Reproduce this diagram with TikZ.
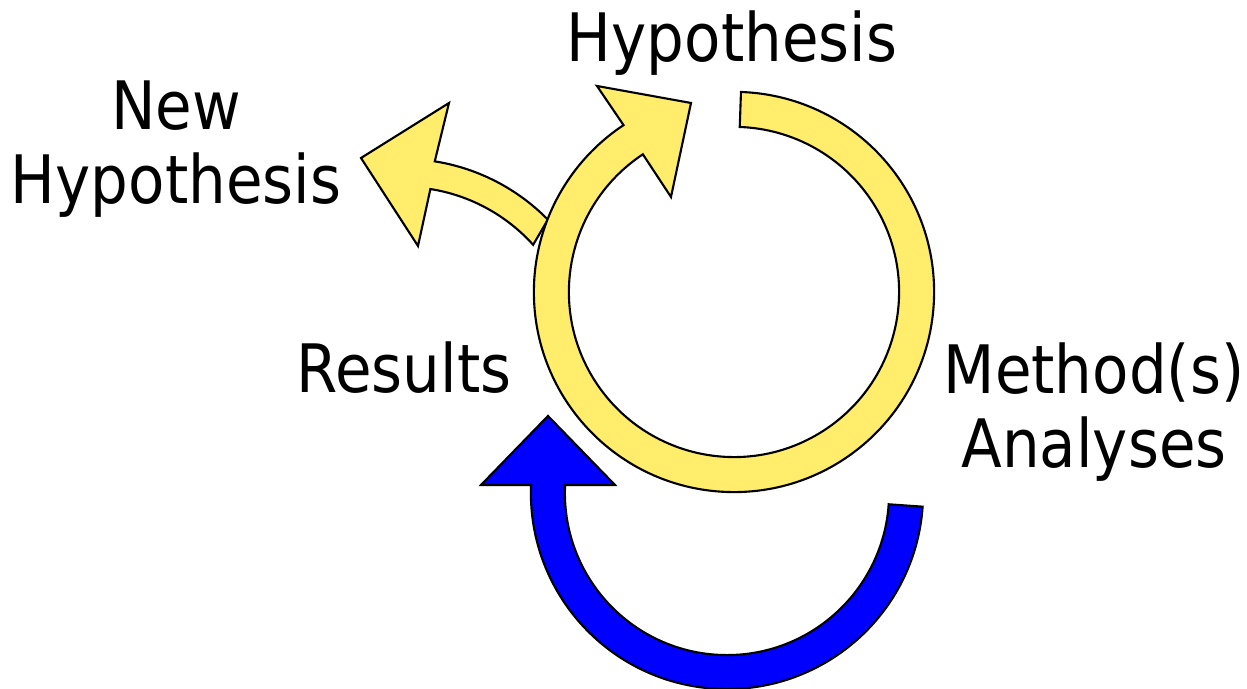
\documentclass[tikz,border=0pt]{standalone}
\usepackage{fontspec}
\newfontfamily\cyclefont{DejaVu Sans}[FakeStretch=0.89]
\usepackage{xcolor}
\definecolor{cycleyellow}{HTML}{FFED6B}
\definecolor{loopblue}{HTML}{0000FF}
\usepackage{tikz}
\usetikzlibrary{calc}
\tikzset{
  every node/.style={font=\cyclefont\fontsize{19pt}{21pt}\selectfont},
  yellowarrow/.style={draw=black, line width=0.6pt, fill=cycleyellow, line join=miter},
  bluearrow/.style={draw=black, line width=0.6pt, fill=loopblue, line join=miter},
  stagelabel/.style={inner sep=0pt, align=center}
}

\begin{document}
\begin{tikzpicture}[x=0.01cm, y=0.01cm]

\useasboundingbox (0,0) rectangle (1247,689);

% Centres and radii of the three bent arrows
\coordinate (ringc)   at (734,397);  % main cycle
\coordinate (branchc) at (403,327);  % new hypothesis branch
\coordinate (loopc)   at (727,196);  % blue loop back
\def\ringout{2cm}
\def\ringin{1.65cm}

% Branch to the new hypothesis (drawn first, the ring covers its end)
\draw[yellowarrow] ([shift={(44.5:2.03cm)}]branchc)
  arc[start angle=44.5, end angle=81, radius=2.03cm]
  -- (449,586) -- (361,531) -- (418,443)
  -- ([shift={(81:1.75cm)}]branchc)
  arc[start angle=81, end angle=42, radius=1.75cm]
  -- cycle;

% Main cycle: from the top, clockwise, round to the arrow head
\draw[yellowarrow] ([shift={(88:\ringout)}]ringc)
  arc[start angle=88, end angle=-236.5, radius=\ringout]
  -- (597,603) -- (691,586) -- (671,492)
  -- ([shift={(123.5:\ringin)}]ringc)
  arc[start angle=-236.5, end angle=88, radius=\ringin]
  -- cycle;

% Loop back from the methods to the results
\draw[bluearrow] ([shift={(-4:1.96cm)}]loopc)
  arc[start angle=-4, end angle=-180, radius=1.96cm]
  -- (531,204) -- (481,204) -- (548,273) -- (615,204) -- (565,204)
  -- ([shift={(180:1.62cm)}]loopc)
  arc[start angle=180, end angle=356, radius=1.62cm]
  -- cycle;

% Stage labels
\node[stagelabel, anchor=base] (hyp) at (732,627) {Hypothesis};
\node[stagelabel, anchor=north] (newhyp) at (176,609) {New\\Hypothesis};
\node[stagelabel, anchor=base] (res) at (404,296) {Results};
\node[stagelabel, anchor=north] (meth) at (1094,347) {Method(s)\\Analyses};

\end{tikzpicture}
\end{document}
